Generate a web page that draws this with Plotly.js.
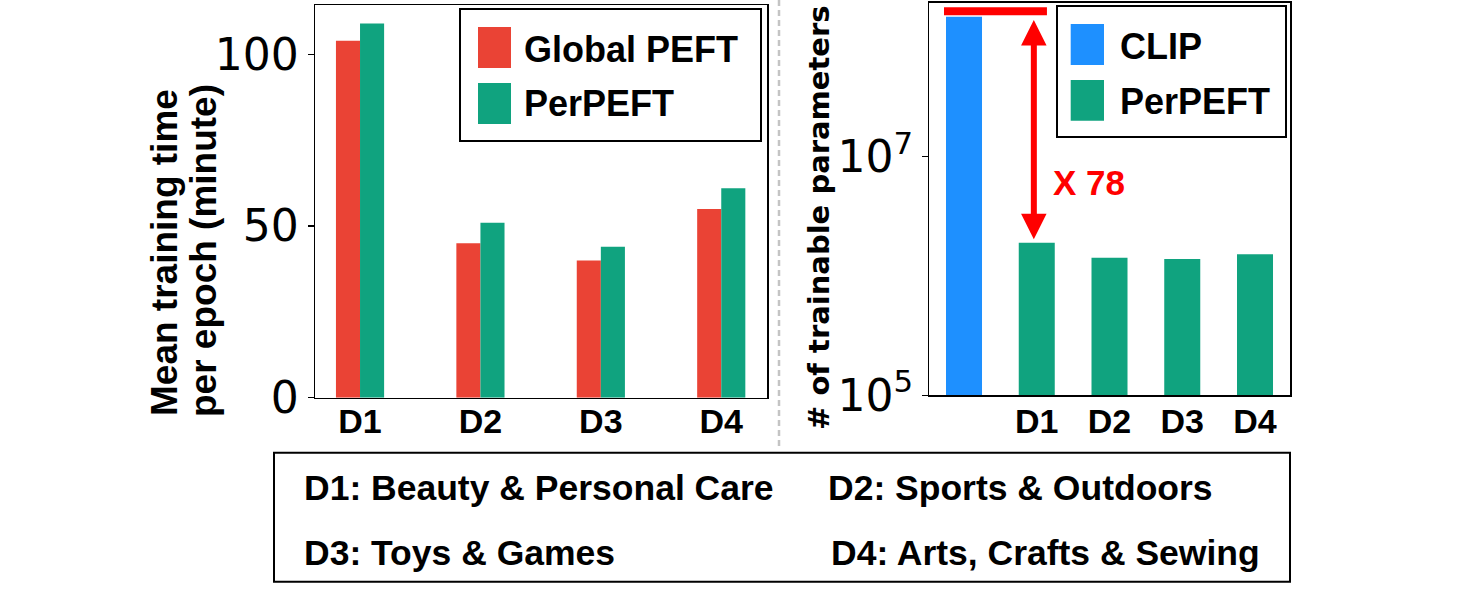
<!DOCTYPE html>
<html>
<head>
<meta charset="utf-8">
<script src="https://cdn.plot.ly/plotly-3.0.1.min.js"></script>
<style>
  html, body { margin: 0; padding: 0; background: #fff; }
  #chart { width: 1464px; height: 594px; }
</style>
</head>
<body>
<div id="chart"></div>
<script>
// ---------- data ----------
const domains = ['D1', 'D2', 'D3', 'D4'];
const globalPeftTime = [104, 45, 40, 55];
const perPeftTime = [109, 51, 44, 61];

const paramCategories = ['CLIP', 'D1', 'D2', 'D3', 'D4'];
const paramTickText = [' ', 'D1', 'D2', 'D3', 'D4'];
const clipParams = [1.49e8];
const perPeftParams = [1.9e6, 1.42e6, 1.39e6, 1.52e6];
const reductionLabel = 'X 78';

const leftLegendLabels = ['Global PEFT', 'PerPEFT'];
const rightLegendLabels = ['CLIP', 'PerPEFT'];
const domainNames = ['D1: Beauty & Personal Care', 'D2: Sports & Outdoors',
                     'D3: Toys & Games', 'D4: Arts, Crafts & Sewing'];

const leftTicks = [0, 50, 100];
const rightTicks = [1e5, 1e7];
const rightTickText = ['10<sup>5</sup>', '10<sup>7</sup>'];

// ---------- styles ----------
const RED = '#EA4335', GREEN = '#10A37F', BLUE = '#1E90FF';
const W = 1464, H = 594;
const px = x => x / W;
const py = y => 1 - y / H;
const BOLD = 'Liberation Sans, Arial, sans-serif';
const DJ = 'DejaVu Sans, sans-serif';

const traces = [
  { type: 'bar', x: domains, y: globalPeftTime, name: leftLegendLabels[0],
    marker: { color: RED }, width: 0.2, offset: -0.2, xaxis: 'x', yaxis: 'y' },
  { type: 'bar', x: domains, y: perPeftTime, name: leftLegendLabels[1],
    marker: { color: GREEN }, width: 0.2, offset: 0, xaxis: 'x', yaxis: 'y' },
  { type: 'bar', x: [paramCategories[0]], y: clipParams, name: rightLegendLabels[0],
    marker: { color: BLUE }, width: 0.495, offset: -0.2475, xaxis: 'x2', yaxis: 'y2' },
  { type: 'bar', x: paramCategories.slice(1), y: perPeftParams, name: rightLegendLabels[1],
    marker: { color: GREEN }, width: 0.495, offset: -0.2475, xaxis: 'x2', yaxis: 'y2' }
];

const axisLine = { showline: true, linecolor: '#000', linewidth: 1.5, mirror: true,
                   showgrid: false, zeroline: false, ticks: 'outside', ticklen: 6,
                   tickwidth: 1.5, tickcolor: '#000' };

const xTickFont = { family: BOLD, size: 34, color: '#000', weight: 'bold' };
const yTickFont = { family: DJ, size: 44, color: '#000' };

const layout = {
  width: W, height: H,
  margin: { l: 0, r: 0, t: 0, b: 0 },
  paper_bgcolor: '#fff', plot_bgcolor: '#fff',
  showlegend: false,
  barmode: 'overlay',
  xaxis: Object.assign({}, axisLine, {
    domain: [px(315), px(767)], anchor: 'y', type: 'category',
    range: [-0.374, 3.38], ticks: '', tickfont: xTickFont, ticklabelstandoff: -7
  }),
  yaxis: Object.assign({}, axisLine, {
    domain: [py(397.7), py(5)], anchor: 'x',
    range: [0, 114.4], tickvals: leftTicks, tickfont: yTickFont
  }),
  xaxis2: Object.assign({}, axisLine, {
    domain: [px(929.3), px(1290)], anchor: 'y2', type: 'category',
    range: [-0.477, 4.481], ticks: '', tickfont: xTickFont, ticklabelstandoff: -5,
    tickvals: paramCategories, ticktext: paramTickText
  }),
  yaxis2: Object.assign({}, axisLine, {
    domain: [py(395.3), py(2.7)], anchor: 'x2', type: 'log',
    range: [5, 8.291], tickvals: rightTicks, ticktext: rightTickText, tickfont: yTickFont
  }),
  shapes: [],
  annotations: []
};

// separator
layout.shapes.push({ type: 'line', xref: 'paper', yref: 'paper',
  x0: px(779), x1: px(779), y0: py(0), y1: py(446),
  line: { color: '#c4c4c4', width: 2.5, dash: '6px,4px' } });

// left legend
layout.shapes.push({ type: 'rect', xref: 'paper', yref: 'paper',
  x0: px(460), x1: px(761), y0: py(9), y1: py(141), line: { color: '#000', width: 2 }, fillcolor: 'rgba(0,0,0,0)' });
[[RED, 27, 68, 50], [GREEN, 83, 124, 103]].forEach((s, i) => {
  layout.shapes.push({ type: 'rect', xref: 'paper', yref: 'paper',
    x0: px(478), x1: px(511), y0: py(s[1]), y1: py(s[2]), line: { width: 0 }, fillcolor: s[0] });
  layout.annotations.push({ xref: 'paper', yref: 'paper', x: px(522), y: py(s[3]),
    xanchor: 'left', yanchor: 'middle', showarrow: false, text: leftLegendLabels[i],
    font: { family: BOLD, size: 36, color: '#000', weight: 'bold' } });
});

// right legend
layout.shapes.push({ type: 'rect', xref: 'paper', yref: 'paper',
  x0: px(1057), x1: px(1286), y0: py(6), y1: py(137), line: { color: '#000', width: 2 }, fillcolor: 'rgba(0,0,0,0)' });
[[BLUE, 24, 65, 46.7], [GREEN, 80, 120.7, 101.7]].forEach((s, i) => {
  layout.shapes.push({ type: 'rect', xref: 'paper', yref: 'paper',
    x0: px(1070.7), x1: px(1104), y0: py(s[1]), y1: py(s[2]), line: { width: 0 }, fillcolor: s[0] });
  layout.annotations.push({ xref: 'paper', yref: 'paper', x: px(1118), y: py(s[3]),
    xanchor: 'left', yanchor: 'middle', showarrow: false, text: rightLegendLabels[i],
    font: { family: BOLD, size: 36, color: '#000', weight: 'bold' } });
});

// red cap line at CLIP level
const capLevel = clipParams[0] * 1.11;
layout.shapes.push({ type: 'line', xref: 'x2', yref: 'y2',
  x0: -0.275, x1: 1.14, y0: capLevel, y1: capLevel, line: { color: '#FF0000', width: 8 } });

// double arrow between CLIP and D1
layout.annotations.push({ xref: 'x2', yref: 'y2', axref: 'x2', ayref: 'y2',
  x: 0.96, y: Math.log10(perPeftParams[0]) + 0.03,
  ax: 0.96, ay: Math.log10(capLevel) - 0.06,
  text: '', showarrow: true, arrowside: 'end+start', arrowhead: 2, startarrowhead: 2,
  arrowsize: 0.85, startarrowsize: 0.85, arrowwidth: 6, arrowcolor: '#FF0000', standoff: 0, startstandoff: 0 });
layout.annotations.push({ xref: 'x2', yref: 'y2', x: 1.2, y: 6.78,
  xanchor: 'left', yanchor: 'middle', showarrow: false, text: reductionLabel,
  font: { family: BOLD, size: 35, color: '#FF0000', weight: 'bold' } });

// axis titles
layout.annotations.push({ xref: 'paper', yref: 'paper', x: px(164), y: py(253), textangle: -90,
  xanchor: 'center', yanchor: 'middle', showarrow: false, text: 'Mean training time',
  font: { family: BOLD, size: 37, color: '#000', weight: 'bold' } });
layout.annotations.push({ xref: 'paper', yref: 'paper', x: px(204), y: py(250), textangle: -90,
  xanchor: 'center', yanchor: 'middle', showarrow: false, text: 'per epoch (minute)',
  font: { family: BOLD, size: 37, color: '#000', weight: 'bold' } });
layout.annotations.push({ xref: 'paper', yref: 'paper', x: px(819), y: py(218), textangle: -90,
  xanchor: 'center', yanchor: 'middle', showarrow: false, text: '# of trainable parameters',
  font: { family: 'DejaVu Sans', size: 29, color: '#000', weight: 'bold' } });

// bottom domain box
layout.shapes.push({ type: 'rect', xref: 'paper', yref: 'paper',
  x0: px(274), x1: px(1290), y0: py(452.7), y1: py(581.7), line: { color: '#000', width: 2 }, fillcolor: 'rgba(0,0,0,0)' });
const boxFont = { family: BOLD, size: 35.5, color: '#000', weight: 'bold' };
[[305, 487.5], [829, 487.5], [305, 552.5], [831.5, 552.5]].forEach((p, i) => {
  layout.annotations.push({ xref: 'paper', yref: 'paper', x: px(p[0] - 3), y: py(p[1]),
    xanchor: 'left', yanchor: 'middle', showarrow: false, text: domainNames[i], font: boxFont });
});

Plotly.newPlot('chart', traces, layout, { staticPlot: true, displayModeBar: false });
</script>
</body>
</html>
